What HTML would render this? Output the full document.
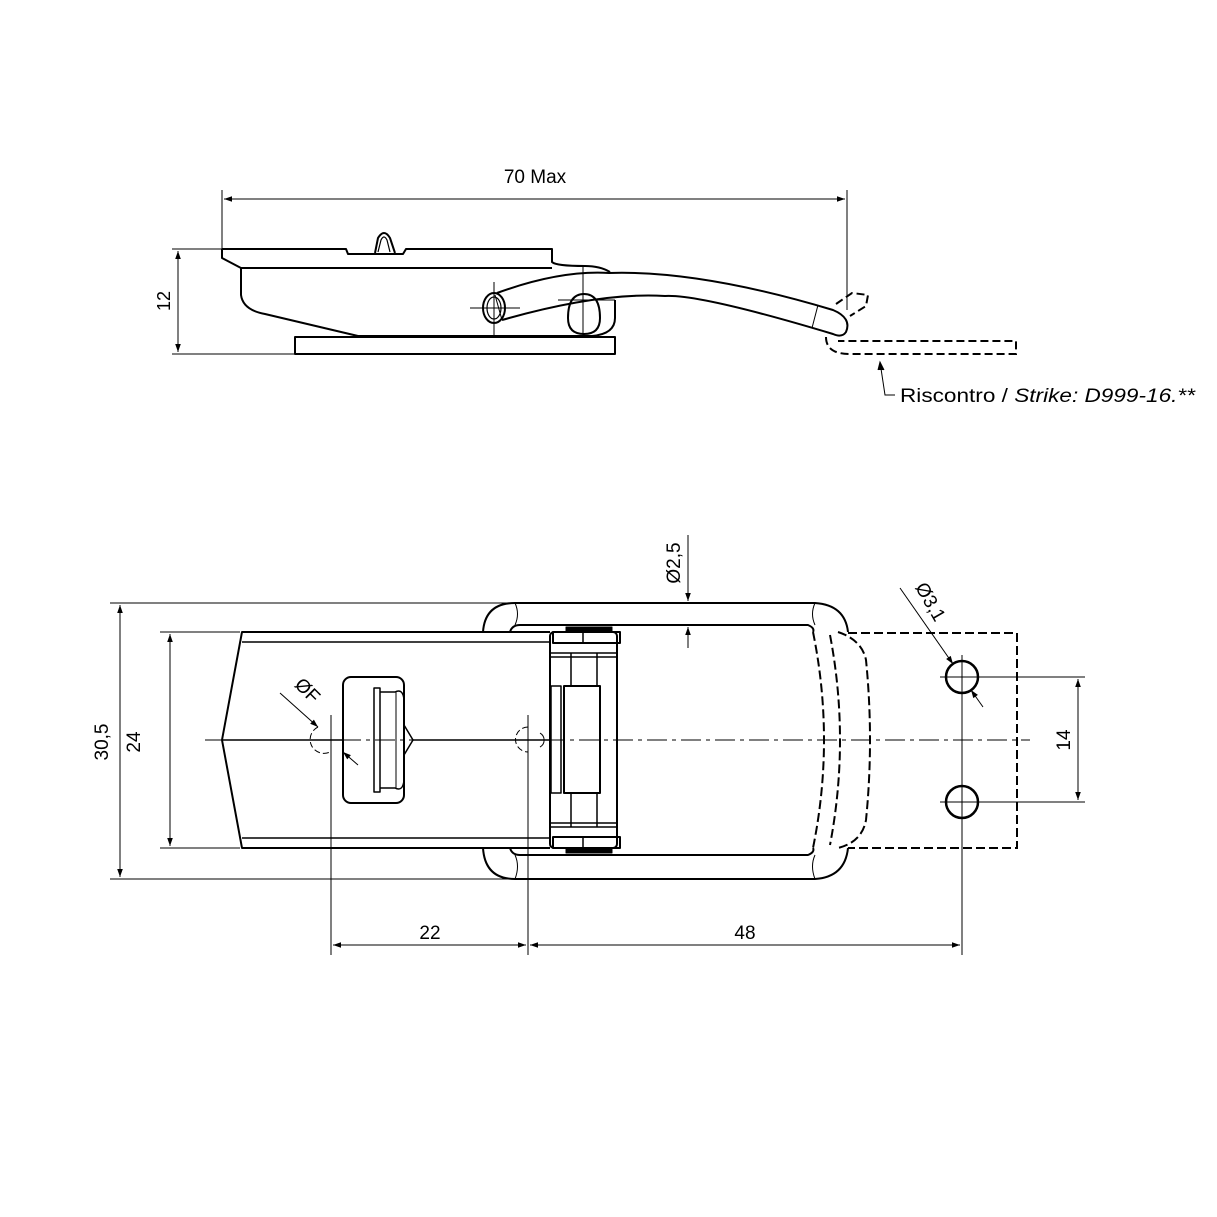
<!DOCTYPE html>
<html><head><meta charset="utf-8"><style>body{margin:0;background:#fff}svg{display:block}text{font-family:"Liberation Sans",sans-serif;fill:#000}</style></head><body>
<svg width="1217" height="1217" viewBox="0 0 1217 1217" xmlns="http://www.w3.org/2000/svg">
<defs>
<marker id="a" viewBox="0 0 10 10" refX="10" refY="5" markerWidth="10" markerHeight="8" orient="auto-start-reverse" markerUnits="userSpaceOnUse"><path d="M0,1.5 L10,5 L0,8.5 z" fill="#000"/></marker>
</defs>
<g fill="none" stroke="#000" stroke-width="1">
<line x1="222" y1="190" x2="222" y2="249"/>
<line x1="847" y1="190" x2="847" y2="310"/>
<line x1="224" y1="199" x2="845" y2="199" marker-start="url(#a)" marker-end="url(#a)"/>
<line x1="172" y1="249" x2="222" y2="249"/>
<line x1="172" y1="354" x2="295" y2="354"/>
<line x1="178" y1="251" x2="178" y2="352" marker-start="url(#a)" marker-end="url(#a)"/>
</g>
<text x="170" y="301" font-size="18" text-anchor="middle" transform="rotate(-90 170 301)">12</text>
<text x="535" y="183" font-size="19" text-anchor="middle">70 Max</text>
<g fill="none" stroke="#000" stroke-width="2" stroke-linejoin="round">
<path d="M222,249 L346,249 L348,254 L403,254 L406,249 L552,249 L552,262 Q556,266 585,266 Q600,266 610,272"/>
<path d="M222,249 L222,258 L241,268 L552,268"/>
<path d="M241,268 L241,295 Q243,310 265,314 L358,336 L592,336 Q615,334 615,318 L615,300"/>
<rect x="295" y="337" width="320" height="17"/>
<path d="M375,253 L378,238 Q384,228 390,238 L395,253" />
<path d="M378,252 L381,240 Q384,234 387,240 L390,252" stroke-width="1.2"/>
<ellipse cx="494" cy="308" rx="11" ry="15"/>
<ellipse cx="494" cy="308" rx="7" ry="11" stroke-width="1.2"/>
<path d="M568,318 Q568,294 584,294 Q600,294 600,318 Q600,334 584,334 Q568,334 568,318"/>
<path d="M497,293 Q560,270 609,273 Q700,270 833,310 Q852,318 846,332 Q842,338 833,334 Q700,294 665,296 Q600,292 502,320"/>
<line x1="495" y1="295" x2="502" y2="320" stroke-width="1"/>
<line x1="818" y1="305" x2="812" y2="328" stroke-width="1"/>
</g>
<g fill="none" stroke="#000" stroke-width="1">
<line x1="470" y1="308" x2="520" y2="308"/><line x1="494" y1="282" x2="494" y2="335"/>
<line x1="558" y1="300" x2="615" y2="300"/><line x1="583" y1="266" x2="583" y2="338"/>
</g>
<g fill="none" stroke="#000" stroke-width="2" stroke-dasharray="8,4">
<path d="M826,337 Q826,354 850,354 L1016,354 L1016,341 L838,341"/>
<path d="M836,304 L852,293 L868,295 L866,306 L850,316"/>
</g>
<g fill="none" stroke="#000" stroke-width="1">
<path d="M880,362 L885,395 L895,395" /><path d="M878,370 L880,362 L884,370" fill="#000"/>
</g>
<text x="900" y="402" font-size="19" textLength="295" lengthAdjust="spacingAndGlyphs">Riscontro / <tspan font-style="italic">Strike: D999-16.**</tspan></text>

<!-- TOP VIEW -->
<g fill="none" stroke="#000" stroke-width="1">
<line x1="110" y1="603" x2="515" y2="603"/>
<line x1="110" y1="879" x2="515" y2="879"/>
<line x1="120" y1="605" x2="120" y2="877" marker-start="url(#a)" marker-end="url(#a)"/>
<line x1="160" y1="632" x2="240" y2="632"/>
<line x1="160" y1="848" x2="240" y2="848"/>
<line x1="170" y1="634" x2="170" y2="846" marker-start="url(#a)" marker-end="url(#a)"/>
<line x1="205" y1="740" x2="1030" y2="740" stroke-dasharray="20,5,4,5"/>
<line x1="331" y1="715" x2="331" y2="955"/>
<line x1="528" y1="715" x2="528" y2="955"/>
<line x1="962" y1="660" x2="962" y2="955"/>
<line x1="333" y1="945" x2="526" y2="945" marker-start="url(#a)" marker-end="url(#a)"/>
<line x1="530" y1="945" x2="960" y2="945" marker-start="url(#a)" marker-end="url(#a)"/>
<line x1="985" y1="677" x2="1085" y2="677"/>
<line x1="985" y1="802" x2="1085" y2="802"/>
<line x1="1078" y1="679" x2="1078" y2="800" marker-start="url(#a)" marker-end="url(#a)"/>
<line x1="940" y1="677" x2="985" y2="677"/><line x1="940" y1="802" x2="985" y2="802"/>
<line x1="962" y1="655" x2="962" y2="700"/>
<line x1="688" y1="535" x2="688" y2="601" marker-end="url(#a)"/>
<line x1="688" y1="648" x2="688" y2="627" marker-end="url(#a)"/>
<line x1="900" y1="588" x2="953" y2="664" marker-end="url(#a)"/>
<line x1="983" y1="707" x2="971" y2="690" marker-end="url(#a)"/>
<line x1="280" y1="693" x2="318" y2="727" marker-end="url(#a)"/>
<line x1="358" y1="765" x2="343" y2="752" marker-end="url(#a)"/>
<path d="M318,727 A12,12 0 0 0 330,752" stroke-dasharray="6,3"/>
<path d="M528,727 A12,12 0 0 0 528,752" stroke-dasharray="6,3"/>
<path d="M540,733 A8,8 0 0 1 540,747"/>
</g>
<text x="430" y="939" font-size="19" text-anchor="middle">22</text>
<text x="745" y="939" font-size="19" text-anchor="middle">48</text>
<text x="140" y="742" font-size="19" text-anchor="middle" transform="rotate(-90 140 742)">24</text>
<text x="108" y="742" font-size="19" text-anchor="middle" transform="rotate(-90 108 742)">30,5</text>
<text x="1070" y="740" font-size="19" text-anchor="middle" transform="rotate(-90 1070 740)">14</text>
<text x="680" y="563" font-size="19" text-anchor="middle" transform="rotate(-90 680 563)">Ø2,5</text>
<text x="925" y="605" font-size="19" text-anchor="middle" transform="rotate(60 925 605)">Ø3,1</text>
<text x="303" y="695" font-size="19" text-anchor="middle" transform="rotate(45 303 695)">ØF</text>

<g fill="none" stroke="#000" stroke-width="2" stroke-linejoin="round">
<path d="M550,632 L242,632 L222,740 L242,848 L550,848"/>
<line x1="242" y1="642" x2="550" y2="642" stroke-width="1.5"/>
<line x1="242" y1="838" x2="550" y2="838" stroke-width="1.5"/>
<line x1="222" y1="740" x2="343" y2="740" stroke-width="1.5"/>
<line x1="413" y1="740" x2="550" y2="740" stroke-width="1.5"/>
<rect x="343" y="677" width="61" height="126" rx="8"/>
<path d="M374,688 L380,688 L380,792 L374,792 Z" stroke-width="1.5"/>
<path d="M380,692 L395,692 Q403,688 404,700 L404,725 L413,740 L404,755 L404,780 Q403,792 395,788 L380,788" stroke-width="1.5"/>
<line x1="396" y1="692" x2="396" y2="788" stroke-width="1"/>
<path d="M483,632 Q485,603 515,603 L815,603 Q845,605 848,632"/>
<path d="M510,632 Q512,625 520,625 L808,625 Q815,628 813,632"/>
<path d="M483,848 Q485,879 515,879 L815,879 Q845,877 848,848"/>
<path d="M510,848 Q512,855 520,855 L808,855 Q815,852 813,848"/>
<path d="M515,603 Q520,614 515,625" stroke-width="1"/>
<path d="M515,855 Q520,866 515,879" stroke-width="1"/>
<path d="M815,603 Q810,614 815,625" stroke-width="1"/>
<path d="M815,855 Q810,866 815,879" stroke-width="1"/>
<rect x="550" y="632" width="67" height="216" rx="4"/>
<rect x="553" y="632" width="67" height="11"/>
<rect x="553" y="837" width="67" height="11"/>
<rect x="566" y="627" width="46" height="5" fill="#000" stroke-width="1"/>
<rect x="566" y="848" width="46" height="5" fill="#000" stroke-width="1"/>
<rect x="564" y="686" width="36" height="107"/>
<rect x="551" y="686" width="10" height="107" stroke-width="1.5"/>
<g stroke-width="1.5"><line x1="571" y1="653" x2="571" y2="686"/><line x1="597" y1="653" x2="597" y2="686"/>
<line x1="571" y1="793" x2="571" y2="827"/><line x1="597" y1="793" x2="597" y2="827"/>
<line x1="551" y1="653" x2="617" y2="653"/><line x1="551" y1="657" x2="617" y2="657"/>
<line x1="551" y1="823" x2="617" y2="823"/><line x1="551" y1="827" x2="617" y2="827"/>
<line x1="583" y1="632" x2="583" y2="643"/><line x1="583" y1="837" x2="583" y2="848"/></g>
<circle cx="962" cy="677" r="16" stroke-width="2.5"/>
<circle cx="962" cy="802" r="16" stroke-width="2.5"/>
</g>
<g fill="none" stroke="#000" stroke-width="2" stroke-dasharray="9,4">
<path d="M848,633 L1017,633 L1017,848 L848,848"/>
<path d="M813,632 Q835,740 813,848"/>
<path d="M830,635 Q850,740 830,845"/>
<path d="M838,632 Q862,640 866,660 Q874,740 866,820 Q862,842 838,848"/>
</g>
</svg>
</body></html>
